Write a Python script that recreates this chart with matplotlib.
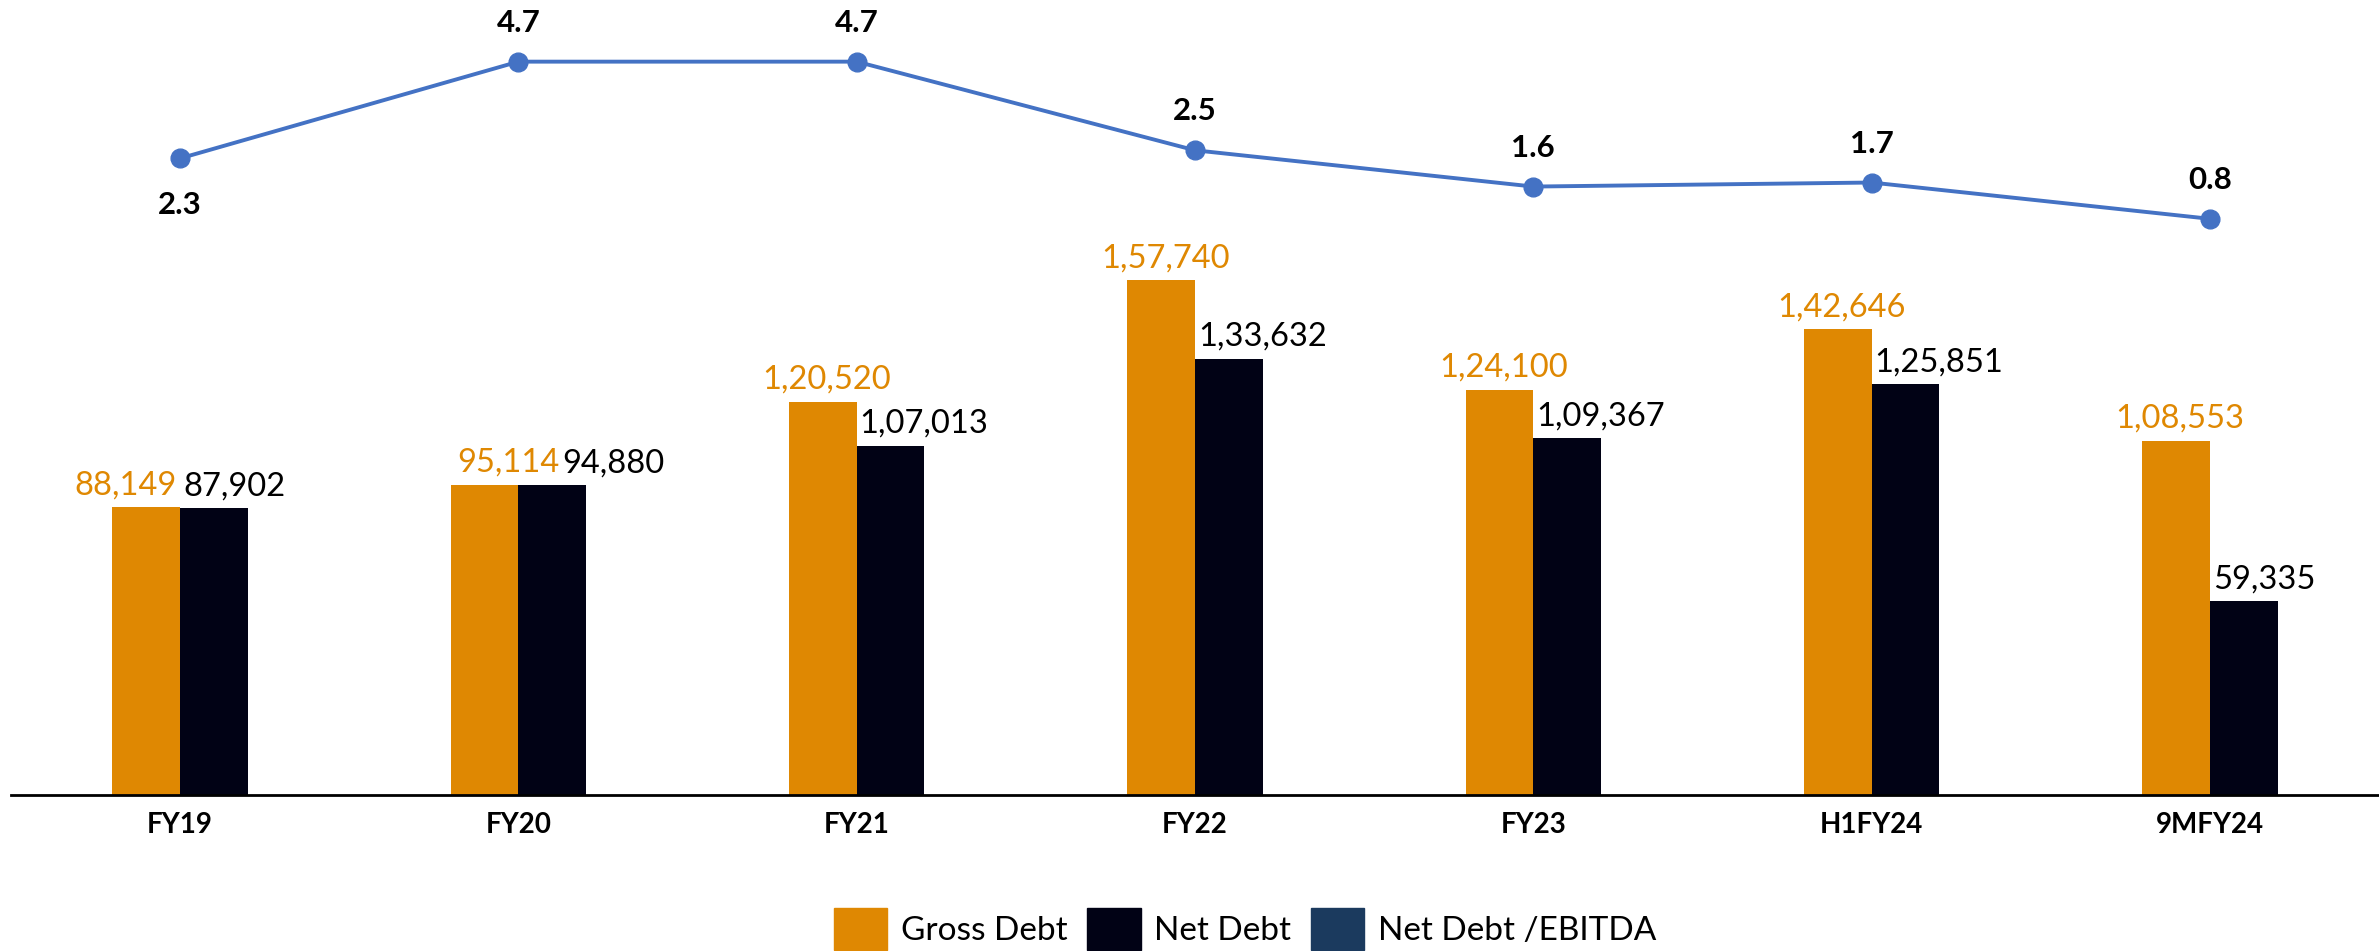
import matplotlib
matplotlib.use("Agg")
import matplotlib.pyplot as plt
from matplotlib.patches import Patch
import numpy as np

plt.rcParams['font.family'] = ['Lato', 'DejaVu Sans']

periods = ["FY19", "FY20", "FY21", "FY22", "FY23", "H1FY24", "9MFY24"]
gross_debt = [88149, 95114, 120520, 157740, 124100, 142646, 108553]
net_debt = [87902, 94880, 107013, 133632, 109367, 125851, 59335]
net_debt_ebitda = [2.3, 4.7, 4.7, 2.5, 1.6, 1.7, 0.8]

ORANGE = "#DF8802"
DARK = "#010215"
LINE = "#4472C4"
NAVY = "#1B3A5E"

W, H, DPI = 2379, 951, 100
fig = plt.figure(figsize=(W / DPI, H / DPI), dpi=DPI)
ax = fig.add_axes([11 / W, 156 / H, (W - 11) / W, 795 / H])

x = np.arange(len(periods))
bw = 0.2
bars_g = ax.bar(x - bw / 2, gross_debt, width=bw, color=ORANGE, zorder=2)
bars_n = ax.bar(x + bw / 2, net_debt, width=bw, color=DARK, zorder=2)

ax.set_xlim(-0.5, len(periods) - 0.5)
ax.set_ylim(0, 243600)
ax.set_yticks([])
ax.set_xticks(x)
ax.set_xticklabels(periods, fontsize=20, fontweight='bold')
ax.tick_params(axis='x', length=0, pad=12)
for s in ['top', 'right', 'left']:
    ax.spines[s].set_visible(False)
ax.spines['bottom'].set_linewidth(2)
ax.spines['bottom'].set_color('black')

def fmt_indian(v):
    s = str(int(v))
    if len(s) <= 3:
        return s
    head, tail = s[:-3], s[-3:]
    parts = []
    while len(head) > 2:
        parts.insert(0, head[-2:])
        head = head[:-2]
    if head:
        parts.insert(0, head)
    return ",".join(parts + [tail])

# label nudges (pixels) where neighbouring labels would collide
g_dx = [-25, 20, 0, 0, 0, 0, 0]
n_dx = [0, 41, 0, 0, 0, 0, 0]

for i, (bg, bn) in enumerate(zip(bars_g, bars_n)):
    ax.annotate(fmt_indian(gross_debt[i]),
                (bg.get_x() + bg.get_width() / 2, bg.get_height()),
                xytext=(g_dx[i] + 4, 13), textcoords='offset pixels',
                ha='center', va='baseline', fontsize=23.5, color=ORANGE)
    ax.annotate(fmt_indian(net_debt[i]),
                (bn.get_x(), bn.get_height()),
                xytext=(n_dx[i] + 3, 13), textcoords='offset pixels',
                ha='left', va='baseline', fontsize=23.5, color='black')

ax2 = ax.twinx()
ax2.set_ylim(-13.5, 6.23)
ax2.set_axis_off()
ax2.plot(x, net_debt_ebitda, color=LINE, lw=2.8, marker='o', markersize=13.5,
         zorder=3)
for i, v in enumerate(net_debt_ebitda):
    dy = -56 if i == 0 else 30
    ax2.annotate(f"{v:.1f}", (x[i], v), xytext=(0, dy),
                 textcoords='offset pixels', ha='center', va='baseline',
                 fontsize=22.5, fontweight='bold', color='black')

handles = [Patch(color=ORANGE), Patch(color=DARK), Patch(color=NAVY)]
fig.legend(handles, ["Gross Debt", "Net Debt", "Net Debt /EBITDA"],
           loc='center', bbox_to_anchor=(1245 / W, 22 / H), ncol=3,
           frameon=False, fontsize=24, handlelength=1.6, handleheight=1.6,
           handletextpad=0.4, columnspacing=0.6, borderpad=0.1)

fig.savefig("out.png", dpi=DPI)
